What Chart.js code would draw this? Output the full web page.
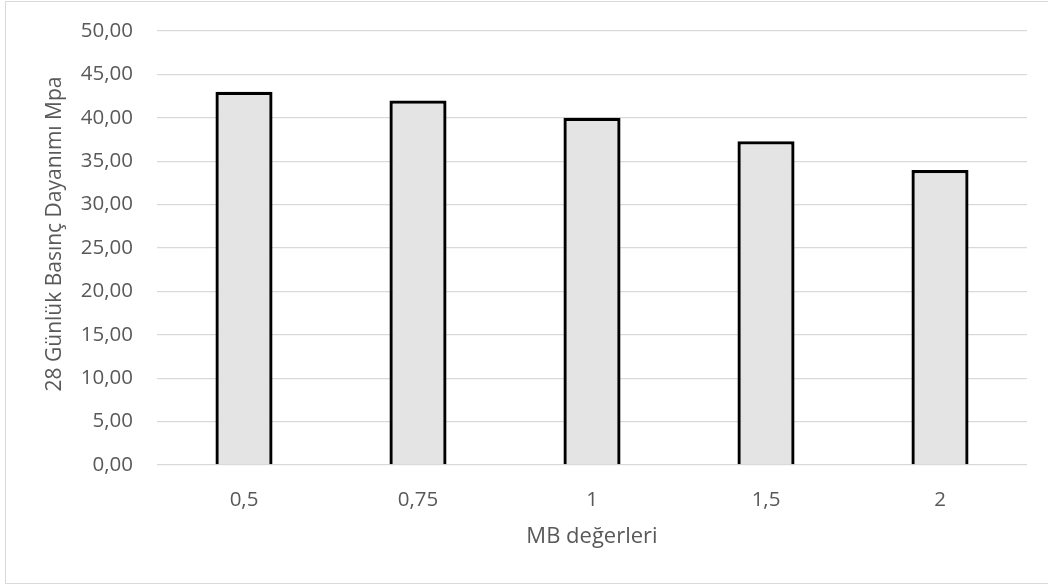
<!DOCTYPE html>
<html>
<head>
<meta charset="utf-8">
<script src="https://cdn.jsdelivr.net/npm/chart.js@4"></script>
<style>
  html, body { margin: 0; padding: 0; background: #fff; overflow: hidden; }
  #frame { position: absolute; left: 5px; top: 1px; width: 1050px; height: 581px; border: 1px solid #d9d9d9; }
  #wrap { position: absolute; left: 0; top: 0; width: 1048px; height: 584px; }
</style>
</head>
<body>
<div id="frame"></div>
<div id="wrap"><canvas id="c" width="1048" height="584"></canvas></div>
<script>
// MB ratio categories and 28-day compressive strength (MPa)
const categories = ['0,5', '0,75', '1', '1,5', '2'];
const strength = [43.0, 42.0, 40.0, 37.3, 34.0];
const yTicks = [0, 5, 10, 15, 20, 25, 30, 35, 40, 45, 50];
const yTitle = '28 Günlük Basınç Dayanımı Mpa';
const xTitle = 'MB değerleri';

const textColor = '#595959';
const gridColor = '#d9d9d9';
const fam = '"Open Sans", sans-serif';

// Vertical axis title, placed a little above the plot's mid-height
const yTitlePlugin = {
  id: 'yTitle',
  afterDraw(chart) {
    const a = chart.chartArea, c = chart.ctx;
    c.save();
    c.translate(55, (a.top + a.bottom) / 2 - 14);
    c.rotate(-Math.PI / 2);
    c.fillStyle = textColor;
    c.font = '21px ' + fam;
    c.textAlign = 'center';
    c.textBaseline = 'middle';
    c.fillText(yTitle, 0, 0);
    c.restore();
  }
};

new Chart(document.getElementById('c'), {
  type: 'bar',
  data: {
    labels: categories,
    datasets: [{
      data: strength,
      backgroundColor: '#e4e4e4',
      borderColor: '#000000',
      borderWidth: 3.3,
      borderSkipped: 'start',
      categoryPercentage: 1,
      barPercentage: 0.328
    }]
  },
  plugins: [yTitlePlugin],
  options: {
    responsive: false,
    animation: false,
    events: [],
    layout: { padding: { left: 0, right: 21, top: 31, bottom: 0 } },
    plugins: { legend: { display: false }, tooltip: { enabled: false } },
    scales: {
      x: {
        grid: { display: false },
        border: { display: false },
        ticks: { color: textColor, font: { family: fam, size: 20.5 }, padding: 15 },
        title: {
          display: true, text: xTitle, color: textColor,
          font: { family: fam, size: 22 }, padding: { top: 0, bottom: 34 }
        },
        afterFit: s => { s.height = 119; }
      },
      y: {
        min: 0, max: 50,
        afterBuildTicks: s => { s.ticks = yTicks.map(v => ({ value: v })); },
        grid: { color: gridColor, lineWidth: 1.3, drawTicks: true, tickLength: 24, tickColor: 'rgba(0,0,0,0)' },
        border: { display: false },
        ticks: {
          color: textColor, font: { family: fam, size: 20.5 }, padding: 0,
          callback: v => v.toFixed(2).replace('.', ',')
        },
        title: { display: false },
        afterFit: s => { s.width = 157; }
      }
    }
  }
});
</script>
</body>
</html>
